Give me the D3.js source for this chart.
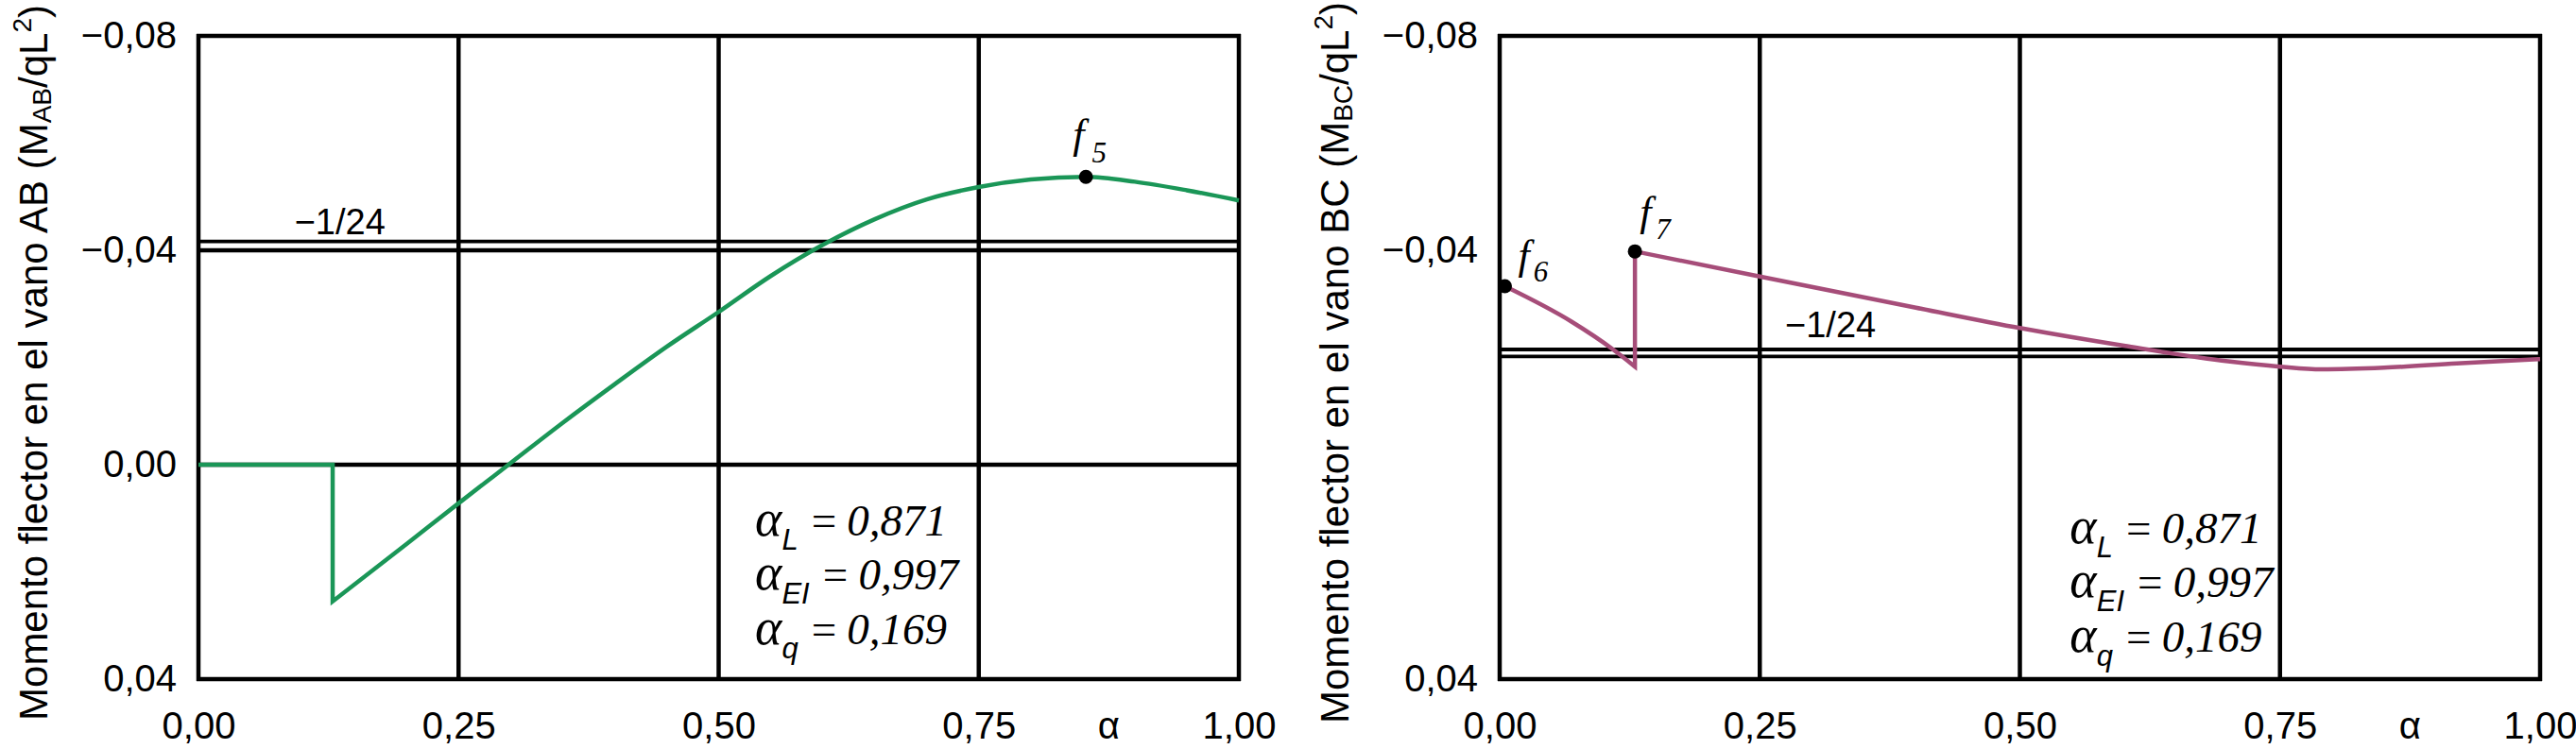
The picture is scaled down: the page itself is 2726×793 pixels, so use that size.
<!DOCTYPE html>
<html lang="es">
<head>
<meta charset="UTF-8">
<title>Momento flector</title>
<script src="https://cdn.jsdelivr.net/npm/d3@7"></script>
<style>
  body { margin: 0; background: #fff; }
  svg { display: block; }
</style>
</head>
<body>
<svg id="chart" width="2726" height="793"></svg>
<script>
// ---- data ----
var xTicks = [0, 0.25, 0.5, 0.75, 1];
var yTicksAB = [-0.08, -0.04, 0, 0.04];
var yTicksBC = [-0.08, -0.04, 0.04];
var gridYAB = [-0.04, 0];
var refLinesAB = [-1 / 24];
var refLinesBC = [-0.0215, -0.0202];
var refLabel = "\u22121/24";

// span AB (green); repeated alpha = vertical jump
var abAlpha  = [0, 0.129, 0.129, 0.20, 0.25, 0.30, 0.35, 0.40, 0.45, 0.50, 0.55, 0.60, 0.65, 0.70, 0.75, 0.80, 0.853, 0.90, 0.95, 1.00];
var abMoment = [0, 0, 0.0255, 0.0148, 0.0072, -0.0003, -0.0078, -0.0150, -0.0220, -0.0285, -0.0352, -0.0410, -0.0458, -0.0495, -0.0518, -0.0532, -0.0537, -0.0528, -0.0512, -0.0493];

// span BC (pink)
var bcAlpha  = [0.005, 0.069, 0.109, 0.13, 0.13, 0.25, 0.40, 0.50, 0.60, 0.70, 0.75, 0.79, 0.85, 0.92, 1.00];
var bcMoment = [-0.0333, -0.0267, -0.0215, -0.0183, -0.0398, -0.0351, -0.0293, -0.0255, -0.0222, -0.0193, -0.0183, -0.0178, -0.0181, -0.0189, -0.0197];

var abMarkers = [{ name: "5", a: 0.853, m: -0.0537 }];
var bcMarkers = [{ name: "6", a: 0.005, m: -0.0333 }, { name: "7", a: 0.13, m: -0.0398 }];

var paramNames  = ["L", "EI", "q"];
var paramValues = ["0,871", "0,997", "0,169"];

// ---- layout / style ----
var SANS = "'Liberation Sans', Arial, Helvetica, sans-serif";
var SERIF = "'Liberation Serif', 'Times New Roman', serif";
var labelOffsets = {
  "5": { dx: -14, dy: -30, sx: 8, sy: 15 },
  "6": { dx: 14, dy: -18, sx: 4, sy: 13 },
  "7": { dx: 5, dy: -27, sx: 5, sy: 14 }
};

var svg = d3.select('#chart');
svg.append('rect').attr('width', 2726).attr('height', 793).attr('fill', '#fff');

var fmt = d3.formatLocale({ decimal: ",", thousands: ".", grouping: [3], currency: ["", ""], minus: "\u2212" }).format(".2f");

function drawPanel(opt) {
  var x = d3.scaleLinear().domain([0, 1]).range([opt.left, opt.right]);
  var y = d3.scaleLinear().domain([-0.08, 0.04]).range([opt.top, opt.bottom]);
  var g = svg.append('g');

  // y ticks
  var ya = g.append('g')
    .attr('transform', 'translate(' + opt.left + ',0)')
    .call(d3.axisLeft(y).tickValues(opt.yTicks).tickFormat(fmt).tickSize(0).tickPadding(23));
  ya.select('.domain').remove();
  ya.attr('font-family', SANS).attr('font-size', 40);
  ya.selectAll('text').attr('fill', '#000');

  // x ticks
  var xa = g.append('g')
    .attr('transform', 'translate(0,' + opt.bottom + ')')
    .call(d3.axisBottom(x).tickValues(xTicks).tickFormat(fmt).tickSize(0).tickPadding(35));
  xa.select('.domain').remove();
  xa.attr('font-family', SANS).attr('font-size', 40);
  xa.selectAll('text').attr('fill', '#000');

  g.append('text')
    .attr('x', x(0.875)).attr('y', opt.bottom + 63)
    .attr('text-anchor', 'middle')
    .attr('font-family', SANS).attr('font-size', 40)
    .text('\u03b1');

  // vertical grid + frame sides
  g.selectAll('.vgrid').data(xTicks).enter().append('line')
    .attr('x1', function(d){ return x(d); }).attr('x2', function(d){ return x(d); })
    .attr('y1', opt.top - 2).attr('y2', opt.bottom + 2)
    .attr('stroke', '#000').attr('stroke-width', 4.5);

  // horizontal grid + frame top/bottom
  g.selectAll('.hgrid').data([-0.08, 0.04].concat(opt.gridY)).enter().append('line')
    .attr('x1', opt.left - 2).attr('x2', opt.right + 2)
    .attr('y1', function(d){ return y(d); }).attr('y2', function(d){ return y(d); })
    .attr('stroke', '#000').attr('stroke-width', 4.5);

  // reference (double) lines
  g.selectAll('.ref').data(opt.refLines).enter().append('line')
    .attr('x1', opt.left).attr('x2', opt.right)
    .attr('y1', function(d){ return y(d); }).attr('y2', function(d){ return y(d); })
    .attr('stroke', '#000').attr('stroke-width', 3.8);

  g.append('text')
    .attr('x', x(opt.refLabelAt)).attr('y', y(opt.refLines[0]) + opt.refLabelDy)
    .attr('text-anchor', 'middle')
    .attr('font-family', SANS).attr('font-size', 38)
    .text(refLabel);

  // curve: split into runs where alpha stops increasing (jumps)
  var pts = opt.alpha.map(function(a, i){ return [a, opt.moment[i]]; });
  var runs = [[pts[0]]];
  for (var i = 1; i < pts.length; i++) {
    if (pts[i][0] <= pts[i - 1][0]) runs.push([]);
    runs[runs.length - 1].push(pts[i]);
  }
  var line = d3.line().x(function(d){ return x(d[0]); }).y(function(d){ return y(d[1]); }).curve(d3.curveMonotoneX);
  var path = runs.map(function(r, k){
    var s = line(r);
    return k > 0 ? 'L' + s.slice(1) : s;
  }).join('');
  g.append('path')
    .attr('d', path)
    .attr('fill', 'none')
    .attr('stroke', opt.color)
    .attr('stroke-width', 4.5)
    .attr('stroke-linejoin', 'miter');

  // markers
  opt.markers.forEach(function(mk){
    var o = labelOffsets[mk.name];
    g.append('circle').attr('cx', x(mk.a)).attr('cy', y(mk.m)).attr('r', 7.5).attr('fill', '#000');
    var t = g.append('text')
      .attr('x', x(mk.a) + o.dx).attr('y', y(mk.m) + o.dy)
      .attr('font-family', SERIF).attr('font-style', 'italic').attr('font-size', 44);
    t.append('tspan').text('f');
    t.append('tspan').attr('dx', o.sx).attr('dy', o.sy).attr('font-size', 31).text(mk.name);
  });

  // parameter box
  paramNames.forEach(function(p, k){
    var t = g.append('text')
      .attr('x', x(opt.paramAt[0])).attr('y', y(opt.paramAt[1]) + k * 57.5)
      .attr('font-family', SERIF).attr('font-style', 'italic').attr('font-size', 47);
    t.append('tspan').attr('font-size', 54).text('\u03b1');
    t.append('tspan').attr('dy', 15).attr('font-family', SANS).attr('font-size', 31).text(p);
    t.append('tspan').attr('dy', -15).attr('dx', 11).text('=');
    t.append('tspan').attr('dx', 9).text(paramValues[k]);
  });

  // axis title (rotated)
  var tt = g.append('text')
    .attr('transform', 'translate(' + (opt.left - 160) + ',384) rotate(-90)')
    .attr('text-anchor', 'middle')
    .attr('font-family', SANS).attr('font-size', 42);
  tt.append('tspan').text('Momento flector en el vano ' + opt.span + ' (M');
  tt.append('tspan').attr('dy', 4).attr('font-size', 28).text(opt.span);
  tt.append('tspan').attr('dy', -4).text('/qL');
  tt.append('tspan').attr('dy', -17).attr('font-size', 28).text('2');
  tt.append('tspan').attr('dy', 17).text(')');
}

drawPanel({
  left: 210, right: 1311, top: 38, bottom: 719,
  span: 'AB', yTicks: yTicksAB, gridY: gridYAB, refLines: refLinesAB,
  refLabelAt: 0.136, refLabelDy: -8,
  alpha: abAlpha, moment: abMoment, color: '#1a9657',
  markers: abMarkers, paramAt: [0.535, 0.0132]
});

drawPanel({
  left: 1587, right: 2688, top: 38, bottom: 719,
  span: 'BC', yTicks: yTicksBC, gridY: [], refLines: refLinesBC,
  refLabelAt: 0.318, refLabelDy: -13,
  alpha: bcAlpha, moment: bcMoment, color: '#a64d79',
  markers: bcMarkers, paramAt: [0.548, 0.0146]
});
</script>
</body>
</html>
